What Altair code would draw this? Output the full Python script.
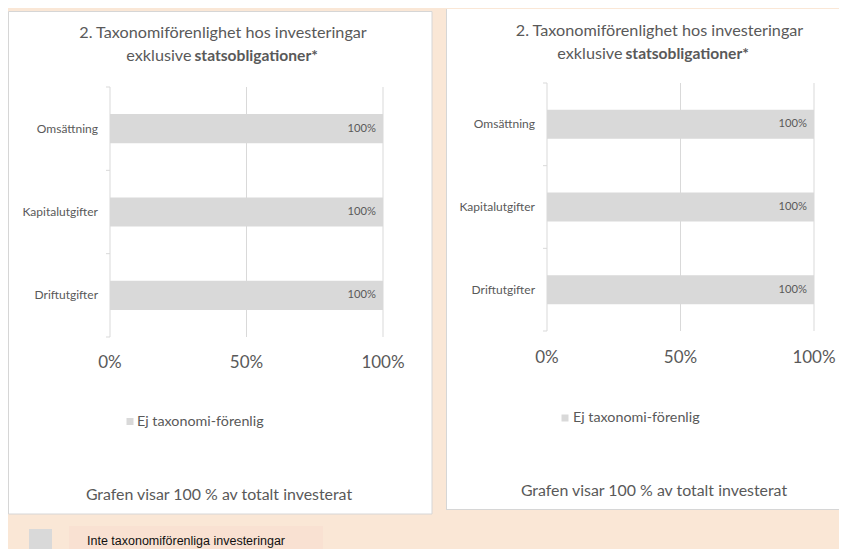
import altair as alt
import pandas as pd

# ---------------- data ----------------
categories = ["Omsättning", "Kapitalutgifter", "Driftutgifter"]
left_values = [100, 100, 100]
right_values = [100, 100, 100]
grid_values = [0, 50, 100]
tick_labels = ["0%", "50%", "100%"]
band_edges = [0, 1, 2, 3]
series_name = ["Ej taxonomi-förenlig"]
title_line1 = ["2. Taxonomiförenlighet hos investeringar"]
title_line2_normal = ["exklusive"]
title_line2_bold = ["statsobligationer*"]
footer_text = ["Grafen visar 100 % av totalt investerat"]
bottom_legend_text = ["Inte taxonomiförenliga investeringar"]

# ---------------- style ----------------
W, H = 831, 541
BG = "#FAE7D6"
LEG_BG = "#F9E1D2"
BAR = "#D9D9D9"
GRID = "#D9D9D9"
BORDER = "#D6D6D6"
TXT = "#595959"
FONT = "Lato"
TITLE_SIZE = 16.2

one = pd.DataFrame({"k": [0]})


def panel(values, box, xr, yr, label_x, tick_y, leg, footer_pos, title_pos, top_border=True):
    df = pd.DataFrame({"cat": categories, "val": values,
                       "lab": [f"{v}%" for v in values]})
    xs = alt.Scale(domain=[0, 100], range=list(xr), nice=False, zero=True)
    ys = alt.Scale(domain=categories, range=list(yr),
                   paddingInner=0.65, paddingOuter=0.325)
    layers = []
    # white panel box
    if top_border:
        layers.append(
            alt.Chart(one).mark_rect(fill="white", stroke=BORDER, strokeWidth=1)
            .encode(x=alt.value(box[0]), x2=alt.value(box[2]),
                    y=alt.value(box[1]), y2=alt.value(box[3]))
        )
    else:
        layers.append(
            alt.Chart(one).mark_rect(fill="white")
            .encode(x=alt.value(box[0]), x2=alt.value(box[2]),
                    y=alt.value(box[1]), y2=alt.value(box[3]))
        )
        layers.append(
            alt.Chart(one).mark_rule(color=BORDER, strokeWidth=1)
            .encode(x=alt.value(box[0] + 0.5), y=alt.value(box[1]), y2=alt.value(box[3]))
        )
        layers.append(
            alt.Chart(one).mark_rule(color=BORDER, strokeWidth=1)
            .encode(y=alt.value(box[3] - 0.5), x=alt.value(box[0]), x2=alt.value(box[2]))
        )
    # gridlines (incl. the 0 line acting as axis)
    layers.append(
        alt.Chart(pd.DataFrame({"g": grid_values})).mark_rule(color=GRID, strokeWidth=1)
        .encode(x=alt.X("g:Q", scale=xs, axis=None),
                y=alt.value(yr[0]), y2=alt.value(yr[1]))
    )
    # category tick marks at band boundaries
    layers.append(
        alt.Chart(pd.DataFrame({"b": band_edges})).mark_rule(color=GRID, strokeWidth=1)
        .encode(y=alt.Y("b:Q", scale=alt.Scale(domain=[0, 3], range=list(yr), nice=False, zero=False), axis=None),
                x=alt.value(xr[0] - 4), x2=alt.value(xr[0]))
    )
    # bars
    layers.append(
        alt.Chart(df).mark_bar(color=BAR)
        .encode(x=alt.X("val:Q", scale=xs, axis=None),
                y=alt.Y("cat:N", scale=ys, axis=None))
    )
    # data labels
    layers.append(
        alt.Chart(df).mark_text(align="right", baseline="middle", dx=-7,
                                font=FONT, fontSize=11.2, color=TXT)
        .encode(x=alt.X("val:Q", scale=xs, axis=None),
                y=alt.Y("cat:N", scale=ys, axis=None), text="lab:N")
    )
    # category labels
    layers.append(
        alt.Chart(df).mark_text(align="right", baseline="middle",
                                font=FONT, fontSize=12, color=TXT)
        .encode(x=alt.value(label_x),
                y=alt.Y("cat:N", scale=ys, axis=None), text="cat:N")
    )
    # x tick labels
    layers.append(
        alt.Chart(pd.DataFrame({"g": grid_values, "t": tick_labels}))
        .mark_text(align="center", baseline="middle", font=FONT, fontSize=17, color=TXT)
        .encode(x=alt.X("g:Q", scale=xs, axis=None), y=alt.value(tick_y), text="t:N")
    )
    # series legend
    sdf = pd.DataFrame({"s": series_name})
    layers.append(
        alt.Chart(sdf).mark_square(size=49, color=BAR, opacity=1)
        .encode(x=alt.value(leg[0]), y=alt.value(leg[1]))
    )
    layers.append(
        alt.Chart(sdf).mark_text(align="left", baseline="middle", font=FONT,
                                 fontSize=14.3, color=TXT)
        .encode(x=alt.value(leg[2]), y=alt.value(leg[1]), text="s:N")
    )
    # footer
    layers.append(
        alt.Chart(pd.DataFrame({"f": footer_text}))
        .mark_text(align="center", baseline="middle", font=FONT, fontSize=15.9, color=TXT)
        .encode(x=alt.value(footer_pos[0]), y=alt.value(footer_pos[1]), text="f:N")
    )
    # title
    layers.append(
        alt.Chart(pd.DataFrame({"t": title_line1}))
        .mark_text(align="center", baseline="middle", font=FONT, fontSize=TITLE_SIZE, color=TXT)
        .encode(x=alt.value(title_pos[0]), y=alt.value(title_pos[1]), text="t:N")
    )
    layers.append(
        alt.Chart(pd.DataFrame({"t": title_line2_normal}))
        .mark_text(align="right", baseline="middle", font=FONT, fontSize=TITLE_SIZE, color=TXT)
        .encode(x=alt.value(title_pos[3]), y=alt.value(title_pos[2]), text="t:N")
    )
    layers.append(
        alt.Chart(pd.DataFrame({"t": title_line2_bold}))
        .mark_text(align="left", baseline="middle", font=FONT, fontSize=TITLE_SIZE - 0.6,
                   fontWeight="bold", color=TXT)
        .encode(x=alt.value(title_pos[3] + 3), y=alt.value(title_pos[2]), text="t:N")
    )
    return layers


left = panel(left_values, box=(0.5, 2.5, 424, 505), xr=(102, 375), yr=(78, 328),
             label_x=90, tick_y=354, leg=(122, 412.5, 129),
             footer_pos=(211, 486), title_pos=(215, 24, 47, 183.5))
right = panel(right_values, box=(438, 0, W, 501), xr=(539, 806), yr=(74, 322),
              label_x=527, tick_y=349, leg=(557, 409, 565),
              footer_pos=(646, 482), title_pos=(651.5, 22, 45, 614.5),
              top_border=False)

bottom = [
    alt.Chart(one).mark_rect(fill=LEG_BG)
    .encode(x=alt.value(61), x2=alt.value(315), y=alt.value(517), y2=alt.value(H)),
    alt.Chart(pd.DataFrame({"s": bottom_legend_text})).mark_rect(fill=BAR)
    .encode(x=alt.value(21), x2=alt.value(44), y=alt.value(520), y2=alt.value(H)),
    alt.Chart(pd.DataFrame({"s": bottom_legend_text}))
    .mark_text(align="left", baseline="middle", font="Liberation Sans", fontSize=12.5, color="#111111")
    .encode(x=alt.value(79), y=alt.value(532), text="s:N"),
]

chart = (
    alt.layer(*left, *right, *bottom)
    .resolve_scale(x="independent", y="independent")
    .properties(width=W, height=H, padding=0, background=BG,
                autosize=alt.AutoSizeParams(type="fit", contains="padding"))
    .configure_view(stroke=None)
)

chart.save("out.html", embed_options={"renderer": "svg", "actions": False})
